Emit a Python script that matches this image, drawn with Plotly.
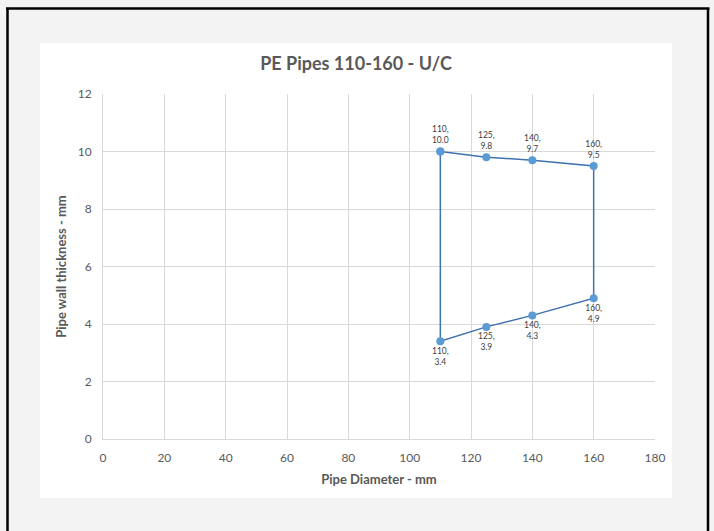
import plotly.graph_objects as go

diam = [110, 125, 140, 160, 160, 140, 125, 110, 110]
thick = [10.0, 9.8, 9.7, 9.5, 4.9, 4.3, 3.9, 3.4, 10.0]
labels = ["110,<br>10.0", "125,<br>9.8", "140,<br>9.7", "160,<br>9.5",
          "160,<br>4.9", "140,<br>4.3", "125,<br>3.9", "110,<br>3.4", ""]
label_pos = ["top center"] * 4 + ["bottom center"] * 4 + ["top center"]
x_ticks = [0, 20, 40, 60, 80, 100, 120, 140, 160, 180]
y_ticks = [0, 2, 4, 6, 8, 10, 12]

FONT = "Lato, Open Sans, sans-serif"
GREY = "#595959"

fig = go.Figure()
fig.add_trace(go.Scatter(
    x=diam, y=thick, mode="lines+markers+text",
    text=labels, textposition=label_pos,
    textfont=dict(size=8.5, color="#404040", family=FONT),
    line=dict(color="#3f72af", width=1.5),
    marker=dict(color="#5b9bd5", size=8),
    showlegend=False, cliponaxis=False,
))

fig.update_layout(
    width=714, height=531,
    margin=dict(l=103, r=59, t=94, b=92),
    paper_bgcolor="#f3f3f3", plot_bgcolor="white",
    font=dict(family=FONT, color=GREY),
    title=dict(text="PE Pipes 110-160 - U/C", x=356 / 714, xanchor="center",
               y=1 - 64 / 531, yanchor="middle",
               font=dict(size=18, color=GREY, family=FONT, weight=700)),
    shapes=[
        dict(type="rect", xref="paper", yref="paper",
             x0=(40 - 103) / 552, x1=(672 - 103) / 552,
             y0=-(498 - 439) / 345, y1=(439 - 43) / 345,
             fillcolor="white", line=dict(width=0), layer="below"),
        dict(type="line", xref="paper", yref="paper",
             x0=(7.5 - 103) / 552, x1=(7.5 - 103) / 552,
             y0=-(560 - 439) / 345, y1=(439 - 8.5) / 345,
             line=dict(color="black", width=2.5)),
        dict(type="line", xref="paper", yref="paper",
             x0=(708 - 103) / 552, x1=(708 - 103) / 552,
             y0=-(560 - 439) / 345, y1=(439 - 8.5) / 345,
             line=dict(color="black", width=2.5)),
        dict(type="line", xref="paper", yref="paper",
             x0=(6 - 103) / 552, x1=(709.5 - 103) / 552,
             y0=(439 - 8.5) / 345, y1=(439 - 8.5) / 345,
             line=dict(color="black", width=2.5)),
    ],
)
fig.update_xaxes(range=[0, 180], tickvals=x_ticks, showgrid=True,
                 gridcolor="#d9d9d9", zeroline=False, showline=True,
                 linecolor="#d9d9d9", ticks="", ticklabelstandoff=8,
                 tickfont=dict(size=12, color=GREY),
                 title=dict(text="<b>Pipe Diameter - mm</b>", standoff=10,
                            font=dict(size=13, color=GREY)))
fig.update_yaxes(range=[0, 12], tickvals=y_ticks, showgrid=True,
                 gridcolor="#d9d9d9", zeroline=False, showline=True,
                 linecolor="#d9d9d9", ticks="", ticklabelstandoff=8,
                 tickfont=dict(size=12, color=GREY),
                 title=dict(text="<b>Pipe wall thickness - mm</b>", standoff=8,
                            font=dict(size=13, color=GREY)))

fig.write_html(
    "out.html",
    config={"displayModeBar": False},
    post_script="document.body.style.margin='0';document.body.style.padding='0';"
                "document.body.style.overflow='hidden';",
)
